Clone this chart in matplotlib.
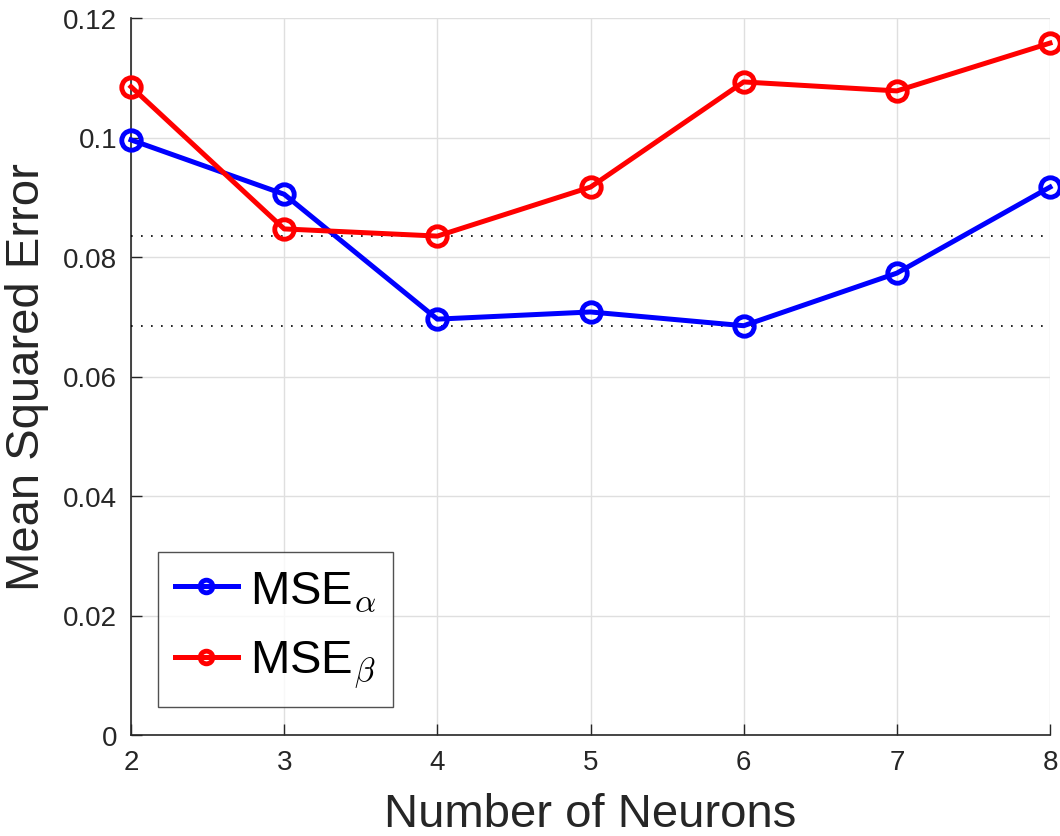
import matplotlib
matplotlib.use("Agg")
import matplotlib.pyplot as plt
from matplotlib import font_manager as fm

neurons = [2, 3, 4, 5, 6, 7, 8]
mse_alpha = [0.0996, 0.0905, 0.0696, 0.0708, 0.0685, 0.0773, 0.0917]
mse_beta = [0.1085, 0.0847, 0.0835, 0.0917, 0.1093, 0.1078, 0.1158]
yticks = [0, 0.02, 0.04, 0.06, 0.08, 0.1, 0.12]
ytick_labels = ["0", "0.02", "0.04", "0.06", "0.08", "0.1", "0.12"]

names = {f.name for f in fm.fontManager.ttflist}
fam = "Liberation Sans Narrow" if "Liberation Sans Narrow" in names else "Liberation Sans"
plt.rcParams["font.family"] = [fam, "DejaVu Sans"]
plt.rcParams["mathtext.fontset"] = "cm"

fig = plt.figure(figsize=(10.6, 8.37), dpi=100)
ax = fig.add_axes([131/1060, 1-736/837, (1050-131)/1060, (736-19)/837])

ax.plot(neurons, mse_alpha, color="#0000ff", lw=3.6, marker="o", ms=14,
        mfc="none", mew=3.5, label=r"MSE$_{\alpha}$", zorder=4, clip_on=False)
ax.plot(neurons, mse_beta, color="#ff0000", lw=3.6, marker="o", ms=14,
        mfc="none", mew=3.5, label=r"MSE$_{\beta}$", zorder=4, clip_on=False)

ax.axhline(min(mse_beta), color="black", lw=1.2, ls=(0, (1, 5)), zorder=3)
ax.axhline(min(mse_alpha), color="black", lw=1.2, ls=(0, (1, 5)), zorder=3)

ax.set_xlim(2, 8)
ax.set_ylim(0, 0.12)
ax.set_xticks(neurons)
ax.set_yticks(yticks)
ax.set_yticklabels(ytick_labels)
ax.grid(True, color="#dfdfdf", lw=1.0)
ax.set_axisbelow(True)
for s in ["top", "right"]:
    ax.spines[s].set_visible(False)
for s in ["left", "bottom"]:
    ax.spines[s].set_color("#262626")
    ax.spines[s].set_linewidth(1.2)
ax.tick_params(direction="in", length=8, width=1.0, colors="#262626",
               labelsize=20, labelcolor="#262626", pad=10)

ax.set_xlabel("Number of Neurons", fontsize=34, color="#262626", labelpad=12)
ax.set_ylabel("Mean Squared Error", fontsize=34, color="#262626", labelpad=10)

leg = ax.legend(loc="lower left", bbox_to_anchor=(27/919, 28/717), fontsize=34,
                frameon=True, fancybox=False, edgecolor="#262626",
                handlelength=1.35, markerscale=0.65, borderaxespad=0,
                labelspacing=0.55, handletextpad=0.25, borderpad=0.35)
leg.get_frame().set_linewidth(1.0)

fig.savefig("out.png", dpi=100)
